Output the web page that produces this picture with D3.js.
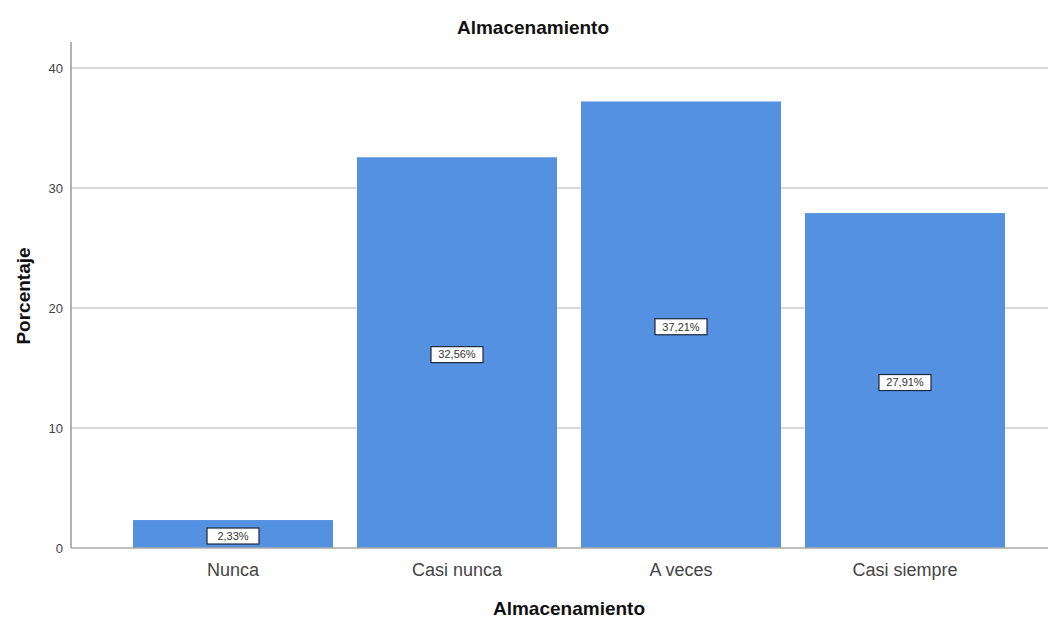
<!DOCTYPE html>
<html>
<head>
<meta charset="utf-8">
<script src="https://cdn.jsdelivr.net/npm/d3@7"></script>
<style>
  body { margin: 0; background: #fff; }
  svg { display: block; }
  text { font-family: "Liberation Sans", Arial, sans-serif; }
</style>
</head>
<body>
<svg id="chart" width="1052" height="618"></svg>
<script>
const categories = ["Nunca", "Casi nunca", "A veces", "Casi siempre"];
const values = [2.33, 32.56, 37.21, 27.91];
const labels = ["2,33%", "32,56%", "37,21%", "27,91%"];
const yTicks = [0, 10, 20, 30, 40];
const title = "Almacenamiento";
const xTitle = "Almacenamiento";
const yTitle = "Porcentaje";

const svg = d3.select("#chart");
const W = 1052, H = 618;
svg.append("rect").attr("width", W).attr("height", H).attr("fill", "#fff");

const axisX = 71, plotRight = 1048;
const y = d3.scaleLinear().domain([0, 40]).range([548, 68]);
const x = d3.scaleBand().domain(categories).range([121, 1017])
  .paddingInner(24 / 224).paddingOuter(12 / 224);

// gridlines
svg.append("g").selectAll("line").data(yTicks.filter(d => d > 0)).join("line")
  .attr("x1", axisX).attr("x2", plotRight)
  .attr("y1", d => y(d)).attr("y2", d => y(d))
  .attr("stroke", "#d9d9d9").attr("stroke-width", 2);

// bars
svg.append("g").selectAll("rect").data(values).join("rect")
  .attr("x", (d, i) => x(categories[i]))
  .attr("width", x.bandwidth())
  .attr("y", d => y(d))
  .attr("height", d => y(0) - y(d))
  .attr("fill", "#5591e1");

// x baseline
svg.append("line").attr("x1", axisX).attr("x2", plotRight)
  .attr("y1", y(0)).attr("y2", y(0))
  .attr("stroke", "#aaaaaa").attr("stroke-width", 1.5);

// y axis
const yAxis = d3.axisLeft(y).tickValues(yTicks).tickSize(0).tickPadding(8);
const gy = svg.append("g").attr("transform", `translate(${axisX},0)`).call(yAxis);
gy.select(".domain").remove();
gy.append("line").attr("x1", 0).attr("x2", 0).attr("y1", 42).attr("y2", y(0))
  .attr("stroke", "#999").attr("stroke-width", 1.5);
gy.selectAll(".tick text").attr("fill", "#444").style("font-size", "13px")
  .style("font-family", "'Liberation Sans', Arial, sans-serif");

// x axis labels
const xAxis = d3.axisBottom(x).tickSize(0).tickPadding(15);
const gx = svg.append("g").attr("transform", `translate(0,${y(0)})`).call(xAxis);
gx.select(".domain").remove();
gx.selectAll(".tick text").attr("fill", "#444").style("font-size", "18px")
  .style("font-family", "'Liberation Sans', Arial, sans-serif");

// value labels
const lg = svg.append("g").selectAll("g").data(values).join("g")
  .attr("transform", (d, i) => `translate(${x(categories[i]) + x.bandwidth() / 2},${(y(d) + y(0)) / 2 + 2})`);
lg.append("rect").attr("x", -26).attr("y", -8).attr("width", 52).attr("height", 16)
  .attr("fill", "#fff").attr("stroke", "#1a2a40").attr("stroke-width", 1.2);
lg.append("text").text((d, i) => labels[i]).attr("text-anchor", "middle")
  .attr("dy", "0.35em").attr("fill", "#333").style("font-size", "11px");

// titles
svg.append("text").text(title).attr("x", 533).attr("y", 34)
  .attr("text-anchor", "middle").attr("font-weight", "bold")
  .attr("fill", "#111").style("font-size", "19px");
svg.append("text").text(xTitle).attr("x", 569).attr("y", 615)
  .attr("text-anchor", "middle").attr("font-weight", "bold")
  .attr("fill", "#111").style("font-size", "19px");
svg.append("text").text(yTitle)
  .attr("transform", "translate(30,296) rotate(-90)")
  .attr("text-anchor", "middle").attr("font-weight", "bold")
  .attr("fill", "#111").style("font-size", "19px");
</script>
</body>
</html>
